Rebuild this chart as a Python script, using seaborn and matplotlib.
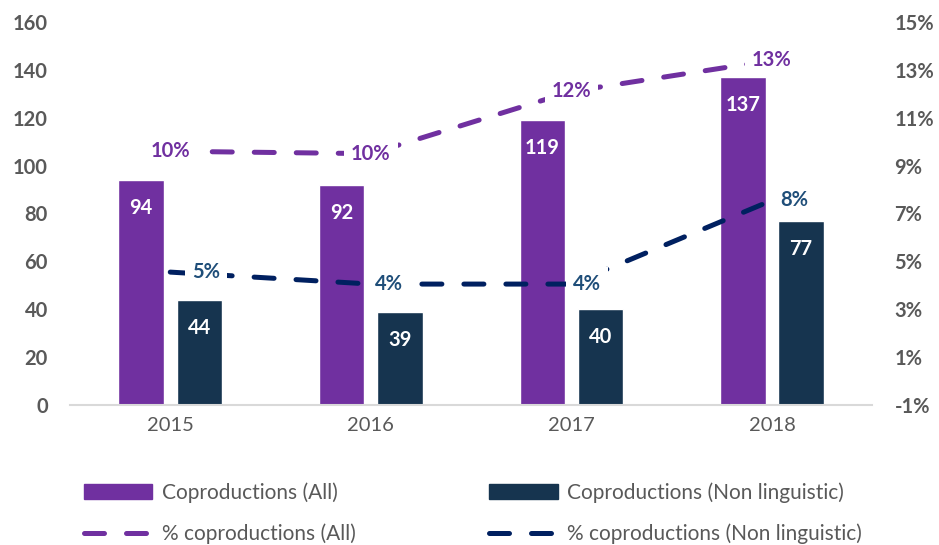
import pandas as pd
import matplotlib.pyplot as plt
import numpy as np
import seaborn as sns
from matplotlib.lines import Line2D
from matplotlib.patches import Patch

# Datos
years = ['2015', '2016', '2017', '2018']
coprod_all = [94, 92, 119, 137]
coprod_nonling = [44, 39, 40, 77]
pct_all = [9.6, 9.5, 12.1, 13.4]
pct_nonling = [4.55, 4.05, 4.05, 7.55]

right_ticks = [-1, 1, 3, 5, 7, 9, 11, 13, 15]

purple = '#7030A0'
navy_bar = '#16344F'
navy_line = '#002060'
navy_text = '#1F4E79'
gray = '#595959'
dash = (4.0, 4.4)

sns.set_theme(style='white')
plt.rcParams['font.family'] = ['Lato', 'DejaVu Sans']

df = pd.DataFrame({
    'Año': years * 2,
    'Valor': coprod_all + coprod_nonling,
    'Serie': ['Coproductions (All)'] * 4 + ['Coproductions (Non linguistic)'] * 4,
})

fig = plt.figure(figsize=(9.39, 5.45), dpi=100)
ax = fig.add_axes([0.0745, 0.257, 0.8545, 0.7026])

sns.barplot(data=df, x='Año', y='Valor', hue='Serie', order=years,
            palette=[purple, navy_bar], width=0.58, gap=0.22,
            legend=False, ax=ax, saturation=1)

ax.set_xlim(-0.5, 3.5)
ax.set_ylim(0, 160)
ax.set_yticks(range(0, 161, 20))
ax.set_xlabel('')
ax.set_ylabel('')
for s in ['top', 'right', 'left']:
    ax.spines[s].set_visible(False)
ax.spines['bottom'].set_color('#D9D9D9')
ax.spines['bottom'].set_linewidth(1.5)
ax.tick_params(axis='y', length=0, labelsize=14.5, labelcolor=gray, pad=16)
ax.tick_params(axis='x', length=0, labelsize=14.5, labelcolor=gray, pad=9)
for t in ax.get_yticklabels():
    t.set_fontweight('bold')

# Etiquetas dentro de las barras
for cont in ax.containers:
    for rect in cont:
        h = rect.get_height()
        ax.annotate(f'{h:.0f}', (rect.get_x() + rect.get_width() / 2, h),
                    xytext=(0, -28), textcoords='offset pixels',
                    ha='center', va='center', color='white',
                    fontsize=14.5, fontweight='bold')

# Eje secundario con porcentajes
ax2 = ax.twinx()
pos = np.arange(len(years))
sns.lineplot(x=pos, y=pct_all, ax=ax2, color=purple, linewidth=3.6)
sns.lineplot(x=pos, y=pct_nonling, ax=ax2, color=navy_line, linewidth=3.6)
for ln in ax2.lines:
    ln.set_dashes(dash)
    ln.set_dash_capstyle('round')

ax2.set_ylim(-1, 15)
ax2.set_yticks(right_ticks)
ax2.set_yticklabels([f'{v}%' for v in right_ticks])
for s in ax2.spines.values():
    s.set_visible(False)
ax2.tick_params(axis='y', length=0, labelsize=14.5, labelcolor=gray, pad=16)
for t in ax2.get_yticklabels():
    t.set_fontweight('bold')

box = dict(boxstyle='square,pad=0.35', fc='white', ec='none')
for i, v in enumerate(pct_all):
    ax2.annotate(f'{v:.0f}%', (pos[i], v), xytext=(0, 0), textcoords='offset pixels',
                 ha='center', va='center', color=purple, fontsize=14.5,
                 fontweight='bold', bbox=box)
nl_offsets = [22, 4, 2, 8]
for i, v in enumerate(pct_nonling):
    ax2.annotate(f'{v:.0f}%', (pos[i], v), xytext=(nl_offsets[i], 0),
                 textcoords='offset pixels', ha='left', va='center',
                 color=navy_text, fontsize=14.5, fontweight='bold', bbox=box)

# Leyenda
handles = [
    Patch(color=purple, label='Coproductions (All)'),
    Line2D([], [], color=purple, lw=3.6, dashes=dash, dash_capstyle='round',
           label='% coproductions (All)'),
    Patch(color=navy_bar, label='Coproductions (Non linguistic)'),
    Line2D([], [], color=navy_line, lw=3.6, dashes=dash, dash_capstyle='round',
           label='% coproductions (Non linguistic)'),
]
leg = fig.legend(handles=handles, ncol=2, loc='lower left',
                 bbox_to_anchor=(0.069, -0.033), frameon=False, fontsize=15,
                 handlelength=3.3, handleheight=0.7, handletextpad=0.45,
                 columnspacing=6.4, labelspacing=1.0)
for t in leg.get_texts():
    t.set_color(gray)

fig.savefig('out.png', dpi=100)
